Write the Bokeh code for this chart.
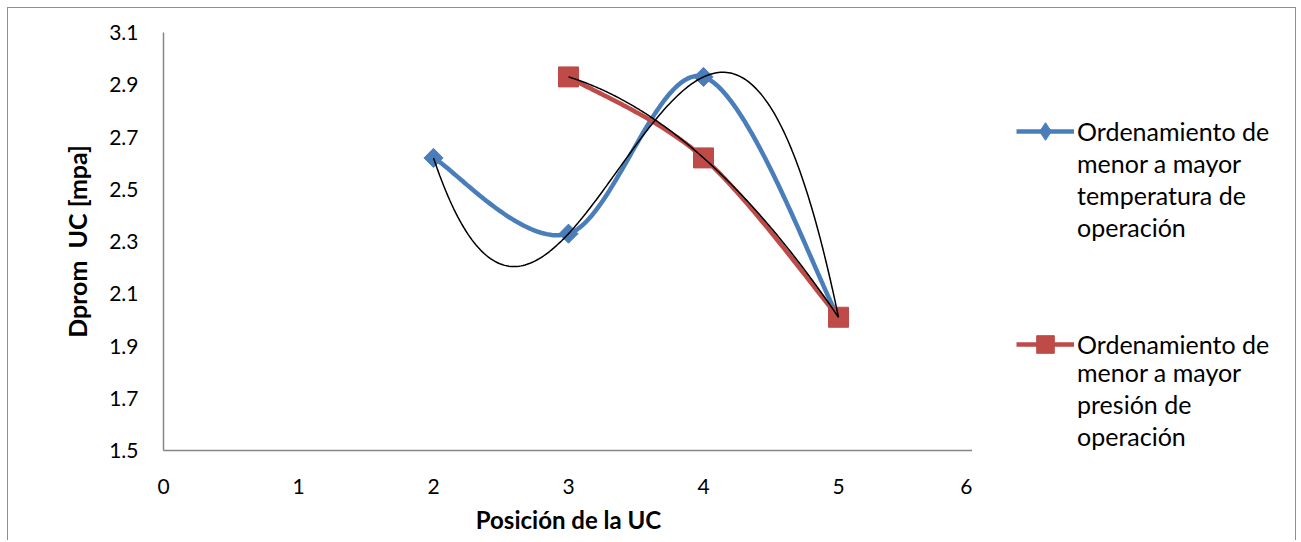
import numpy as np
from bokeh.plotting import figure
from bokeh.layouts import row
from bokeh.models import Legend, LegendItem, Range1d, FixedTicker
from bokeh.embed import file_html
from bokeh.resources import INLINE

# ---- data ----
x_temp = [2, 3, 4, 5]
y_temp = [2.62, 2.33, 2.93, 2.01]
x_pres = [3, 4, 5]
y_pres = [2.93, 2.62, 2.01]
x_ticks = [0, 1, 2, 3, 4, 5, 6]
y_ticks = [1.5, 1.7, 1.9, 2.1, 2.3, 2.5, 2.7, 2.9, 3.1]
label_temp = ["Ordenamiento de", "menor a mayor", "temperatura de", "operación"]
label_pres = ["Ordenamiento de", "menor a mayor", "presión de", "operación"]
x_title = "Posición de la UC"
y_title = "Dprom\u00a0 UC [mpa]"

BLUE = "#4a7ebb"
RED = "#be4b48"
GRAY = "#868686"
BORDER = "1px solid #8e8e8e"
FONT = "Lato"


def smooth(xs, ys, n=60):
    """Excel-like smoothed line (Catmull-Rom Bezier through the points)."""
    P = np.column_stack([xs, ys]).astype(float)
    k = len(P)
    out = []
    for i in range(k - 1):
        p0 = P[i - 1] if i > 0 else P[i]
        p1, p2 = P[i], P[i + 1]
        p3 = P[i + 2] if i + 2 < k else P[i + 1]
        c1 = p1 + (p2 - p0) / 6.0
        c2 = p2 - (p3 - p1) / 6.0
        t = np.linspace(0, 1, n)[:, None]
        seg = ((1 - t) ** 3) * p1 + 3 * ((1 - t) ** 2) * t * c1 + 3 * (1 - t) * t ** 2 * c2 + t ** 3 * p2
        out.append(seg if i == 0 else seg[1:])
    s = np.vstack(out)
    return s[:, 0], s[:, 1]


def trend(xs, ys, deg, n=200):
    c = np.polyfit(xs, ys, deg)
    xx = np.linspace(min(xs), max(xs), n)
    return xx, np.polyval(c, xx)


H = 533
p = figure(width=965, height=H, output_backend="svg", toolbar_location=None,
           x_range=Range1d(0, 6), y_range=Range1d(1.5, 3.1),
           min_border_left=155, min_border_right=0, min_border_top=24, min_border_bottom=91)
p.styles = {"border-left": BORDER, "border-top": BORDER}
p.outline_line_color = None
p.grid.visible = False
p.background_fill_color = "white"
p.border_fill_color = "white"

for ax in (p.xaxis[0], p.yaxis[0]):
    ax.axis_line_color = GRAY
    ax.axis_line_width = 1.5
    ax.major_tick_line_color = None
    ax.minor_tick_line_color = None
    ax.major_tick_out = 0
    ax.major_tick_in = 0
    ax.minor_tick_out = 0
    ax.major_label_text_font = FONT
    ax.major_label_text_font_size = "21px"
    ax.major_label_text_color = "black"
    ax.axis_label_text_font = FONT
    ax.axis_label_text_font_style = "bold"
    ax.axis_label_text_color = "black"

p.xaxis.axis_label_text_font_size = "24px"
p.yaxis.axis_label_text_font_size = "25px"
p.xaxis.ticker = FixedTicker(ticks=x_ticks)
p.yaxis.ticker = FixedTicker(ticks=y_ticks)
p.xaxis.major_label_standoff = 28
p.yaxis.major_label_standoff = 25
p.xaxis.axis_label = x_title
p.yaxis.axis_label = y_title
p.xaxis.axis_label_standoff = 8
p.yaxis.axis_label_standoff = 14

# series 1: temperatura
sx, sy = smooth(x_temp, y_temp)
p.line(sx, sy, line_color=BLUE, line_width=4.5)
p.scatter(x_temp, y_temp, marker="square", angle=np.pi / 4, size=13.5,
          fill_color=BLUE, line_color=BLUE)

# series 2: presion
px, py = smooth(x_pres, y_pres)
p.line(px, py, line_color=RED, line_width=4.5)
p.scatter(x_pres, y_pres, marker="square", size=20, fill_color=RED, line_color=RED)

# polynomial trendlines
tx, ty = trend(x_temp, y_temp, 3)
p.line(tx, ty, line_color="black", line_width=1.5)
qx, qy = trend(x_pres, y_pres, 2)
p.line(qx, qy, line_color="black", line_width=1.5)

# ---- legend panel (separate figure to the right; its data lie outside its ranges) ----
lf = figure(width=324, height=H, output_backend="svg", toolbar_location=None,
            x_range=Range1d(-10, -9), y_range=Range1d(-10, -9),
            min_border_left=0, min_border_right=0, min_border_top=0, min_border_bottom=0)
lf.styles = {"border-right": BORDER, "border-top": BORDER}
lf.axis.visible = False
lf.grid.visible = False
lf.outline_line_color = None
lf.background_fill_color = "white"
lf.border_fill_color = "white"

lt_line = lf.line(x_temp, y_temp, line_color=BLUE, line_width=4.5)
lt_mark = lf.scatter(x_temp, y_temp, marker="diamond", fill_color=BLUE, line_color=BLUE)
lp_line = lf.line(x_pres, y_pres, line_color=RED, line_width=4.5)
lp_mark = lf.scatter(x_pres, y_pres, marker="square", fill_color=RED, line_color=RED)
blank = lf.line(x_temp, y_temp, line_alpha=0)


def legend_block(items, gh, loc):
    return Legend(items=items, location=loc, orientation="vertical",
                  glyph_width=58, glyph_height=gh, label_height=gh, spacing=0,
                  padding=0, margin=0, label_standoff=3,
                  label_text_font=FONT, label_text_font_size="25px",
                  label_text_color="black",
                  border_line_color=None, background_fill_alpha=0)


# frame of this panel is aligned with the main plot's frame (bottom at y=1.5)
lf.add_layout(legend_block([LegendItem(label=label_temp[0], renderers=[lt_line, lt_mark])], 44, (44, 297)), "center")
lf.add_layout(legend_block([LegendItem(label=t, renderers=[blank]) for t in label_temp[1:]], 32, (44, 207)), "center")
lf.add_layout(legend_block([LegendItem(label=label_pres[0], renderers=[lp_line, lp_mark])], 44, (44, 84)), "center")
lf.add_layout(legend_block([LegendItem(label=t, renderers=[blank]) for t in label_pres[1:]], 32, (44, -2)), "center")

layout = row(p, lf, spacing=0)
layout.styles = {"margin-left": "7px", "margin-top": "7px"}

open("out.html", "w").write(file_html(layout, INLINE))
